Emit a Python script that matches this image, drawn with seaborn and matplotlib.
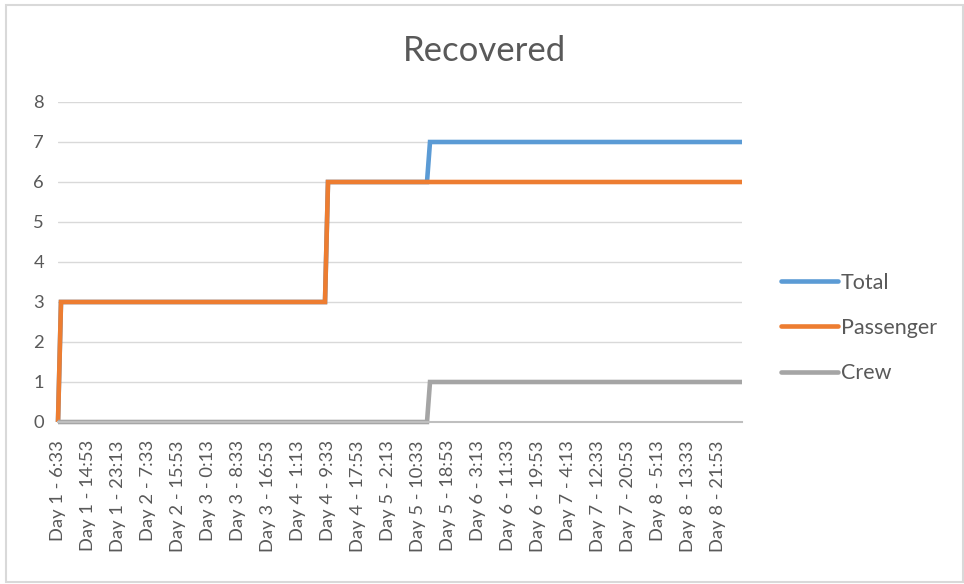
import matplotlib
matplotlib.use("Agg")
import matplotlib.pyplot as plt
import seaborn as sns
import pandas as pd

# Readings are taken every 50 minutes starting at Day 1 - 6:33 (229 samples);
# every tenth sample gets a tick label.
tick_labels = [
    "Day 1 - 6:33", "Day 1 - 14:53", "Day 1 - 23:13", "Day 2 - 7:33",
    "Day 2 - 15:53", "Day 3 - 0:13", "Day 3 - 8:33", "Day 3 - 16:53",
    "Day 4 - 1:13", "Day 4 - 9:33", "Day 4 - 17:53", "Day 5 - 2:13",
    "Day 5 - 10:33", "Day 5 - 18:53", "Day 6 - 3:13", "Day 6 - 11:33",
    "Day 6 - 19:53", "Day 7 - 4:13", "Day 7 - 12:33", "Day 7 - 20:53",
    "Day 8 - 5:13", "Day 8 - 13:33", "Day 8 - 21:53",
]
label_every = 10

# Each series as (value, number of consecutive readings) runs
total_runs = [(0, 1), (3, 89), (6, 34), (7, 105)]
passenger_runs = [(0, 1), (3, 89), (6, 139)]
crew_runs = [(0, 124), (1, 105)]

series_names = ["Total", "Passenger", "Crew"]
series_colors = ["#5B9BD5", "#ED7D31", "#A5A5A5"]


def expand(runs):
    values = []
    for value, count in runs:
        values.extend([value] * count)
    return values


sns.set_theme(style="white")
plt.rcParams["font.family"] = ["Lato", "DejaVu Sans"]

frames = []
for name, runs in zip(series_names, [total_runs, passenger_runs, crew_runs]):
    values = expand(runs)
    frames.append(pd.DataFrame({"sample": range(len(values)),
                                "recovered": values, "series": name}))
df = pd.concat(frames, ignore_index=True)
n = df["sample"].max() + 1

fig = plt.figure(figsize=(9.64, 5.84), dpi=100)
ax = fig.add_axes([58 / 964, 1 - 422 / 584, 684 / 964, 320 / 584])

sns.lineplot(
    data=df, x="sample", y="recovered", hue="series",
    hue_order=series_names, palette=series_colors,
    linewidth=3.3, ax=ax, legend=True,
)
for line in ax.lines:
    line.set_solid_capstyle("butt")
    line.set_solid_joinstyle("miter")
    line.set_clip_on(False)

ax.set_xlim(0, n - 1)
ax.set_ylim(0, 8)
ax.set_yticks(range(0, 9))
ax.set_xticks(range(0, len(tick_labels) * label_every, label_every))
ax.set_xticklabels(tick_labels, rotation=90, va="top", ha="center")
ax.set_xlabel("")
ax.set_ylabel("")

ax.grid(axis="y", color="#D9D9D9", linewidth=1.0)
ax.grid(axis="x", visible=False)
ax.set_axisbelow(True)
for side in ["top", "right", "left"]:
    ax.spines[side].set_visible(False)
ax.spines["bottom"].set_color("#BFBFBF")
ax.spines["bottom"].set_linewidth(1.5)
ax.tick_params(axis="both", length=0, colors="#595959", labelsize=13.2)
ax.tick_params(axis="x", pad=13)
ax.tick_params(axis="y", pad=10)

handles, labels = ax.get_legend_handles_labels()
ax.legend_.remove()
leg = fig.legend(
    handles, labels, loc="center left",
    bbox_to_anchor=(762 / 964, 1 - 328 / 584),
    frameon=False, fontsize=15.5, handlelength=2.65, handletextpad=0.12,
    labelspacing=1.18, labelcolor="#595959",
)
for h in leg.get_lines():
    h.set_linewidth(3.3)
    h.set_solid_capstyle("round")

fig.text(485 / 964, 1 - 51 / 584, "Recovered", ha="center", va="center",
         fontsize=25, color="#595959")

# chart area border
fig.patches.append(plt.Rectangle((6 / 964, 2 / 584), 957 / 964, 577 / 584,
                                 transform=fig.transFigure, fill=False,
                                 edgecolor="#D9D9D9", linewidth=1.5))

fig.savefig("out.png", dpi=100)
